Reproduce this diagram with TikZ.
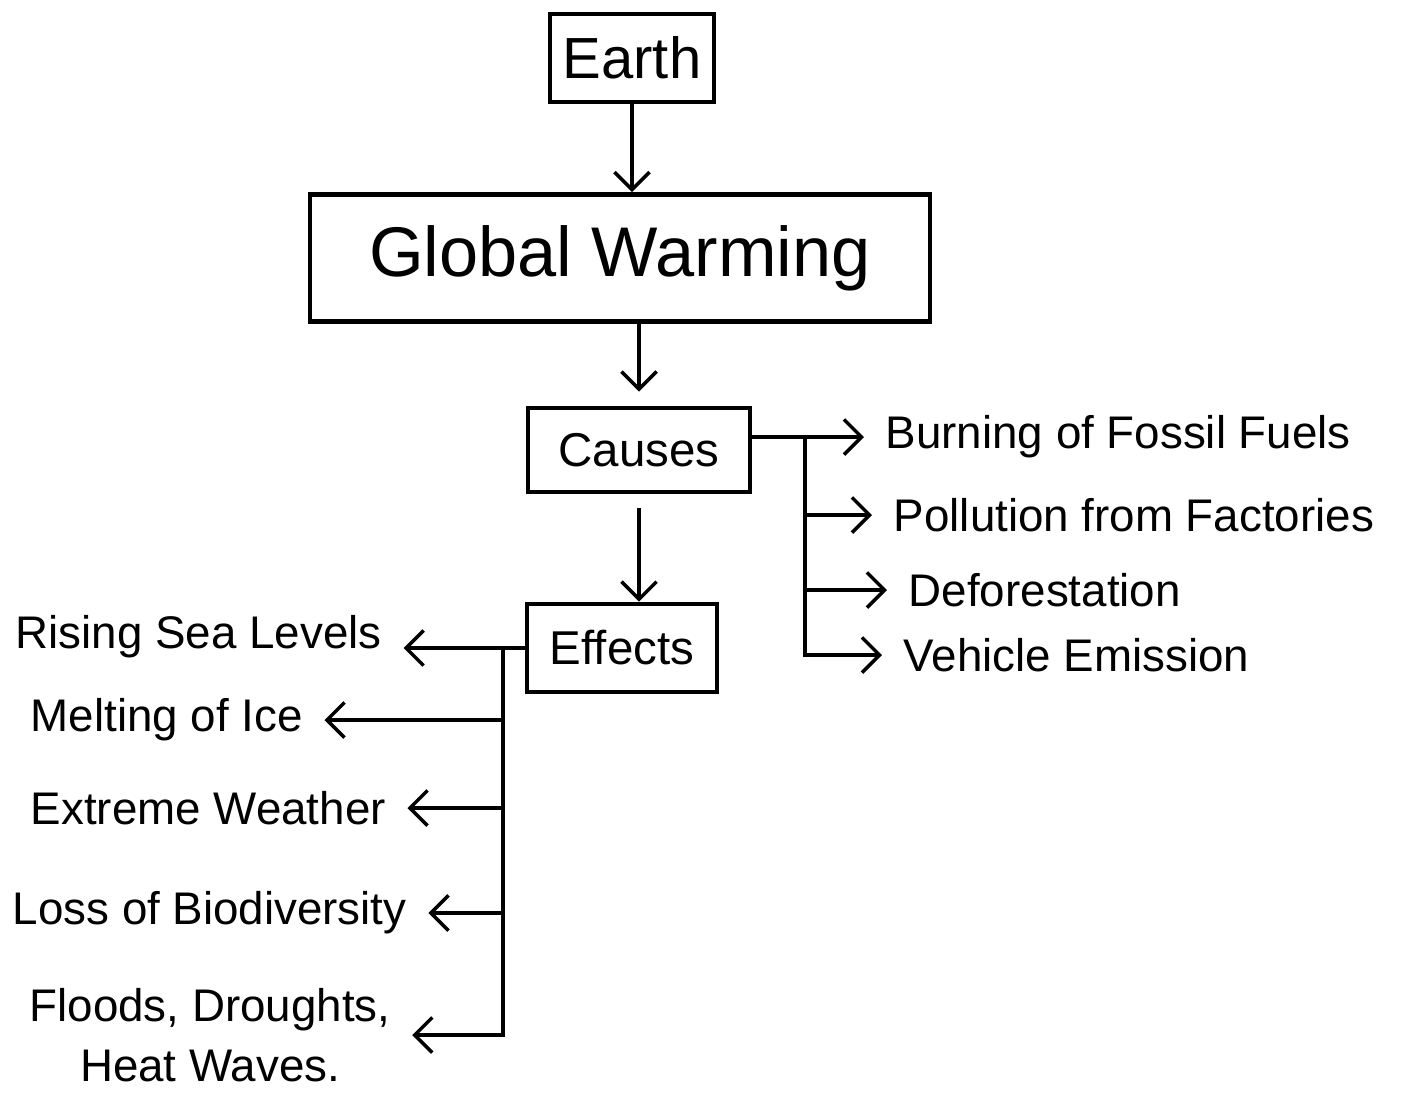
\documentclass[tikz,border=0pt]{standalone}
\usepackage{fontspec}
\setmainfont{Liberation Sans}
\usetikzlibrary{arrows.meta}

\begin{document}
\begin{tikzpicture}[x=0.01cm,y=-0.01cm]
	 \tikzstyle{box}=[draw,line width=1.3pt,inner sep=0pt,font=\fontsize{13.5}{16}\selectfont]
	 \tikzstyle{item}=[inner sep=6pt,font=\fontsize{13}{17}\selectfont]
	 \tikzstyle{edge} = [-,black,line width=1pt]
	 \tikzstyle{arrow edge} = [edge,-{Straight Barb[length=5pt,width=10pt]}]

	 \useasboundingbox (0,0) rectangle (1413,1093);

	 \node[box,minimum width=1.64cm,minimum height=0.88cm,font=\fontsize{16.5}{20}\selectfont] (earth) at (632,58) {Earth};
	 \node[box,minimum width=6.2cm,minimum height=1.27cm,font=\fontsize{20}{24}\selectfont] (warming) at (620,258) {Global Warming};
	 \node[box,minimum width=2.22cm,minimum height=0.84cm] (causes) at (639,450) {Causes};
	 \node[box,minimum width=1.9cm,minimum height=0.88cm] (effects) at (622,648) {Effects};

	 % causes
	 \node[item,anchor=west] (fossil) at (864,437) {Burning of Fossil Fuels};
	 \node[item,anchor=west] (factories) at (872,515) {Pollution from Factories};
	 \node[item,anchor=west] (forest) at (887,590) {Deforestation};
	 \node[item,anchor=west] (vehicle) at (882,655) {Vehicle Emission};

	 % effects
	 \node[item,anchor=west] (rising) at (-6,637) {Rising Sea Levels};
	 \node[item,anchor=west] (melting) at (9,720) {Melting of Ice};
	 \node[item,anchor=west] (weather) at (9,808) {Extreme Weather};
	 \node[item,anchor=west] (biodiversity) at (-9,913) {Loss of Biodiversity};
	 \node[item,align=center] (floods) at (210,1035) {Floods, Droughts,\\ Heat Waves.};

	 \coordinate (rtop) at (805,437);
	 \coordinate (lsplit) at (503,648);

	 \draw[arrow edge] (earth) -- (earth |- warming.north);
	 \draw[arrow edge,shorten >=4pt] (causes |- warming.south) -- (causes);
	 \draw[arrow edge,shorten <=4pt] (causes) -- (causes |- effects.north);

	 \draw[arrow edge] (causes.east |- fossil.west) -- (fossil.west);
	 \draw[arrow edge] (rtop) -- (rtop |- vehicle.west) -- (vehicle.west);
	 \draw[arrow edge] (rtop |- factories.west) -- (factories.west);
	 \draw[arrow edge] (rtop |- forest.west) -- (forest.west);

	 \draw[arrow edge] (effects.west) -- (effects.west -| rising.east);
	 \draw[arrow edge] (lsplit) -- (lsplit |- floods.east) -- (floods.east);
	 \draw[arrow edge] (lsplit |- melting.east) -- (melting.east);
	 \draw[arrow edge] (lsplit |- weather.east) -- (weather.east);
	 \draw[arrow edge] (lsplit |- biodiversity.east) -- (biodiversity.east);
\end{tikzpicture}
\end{document}
